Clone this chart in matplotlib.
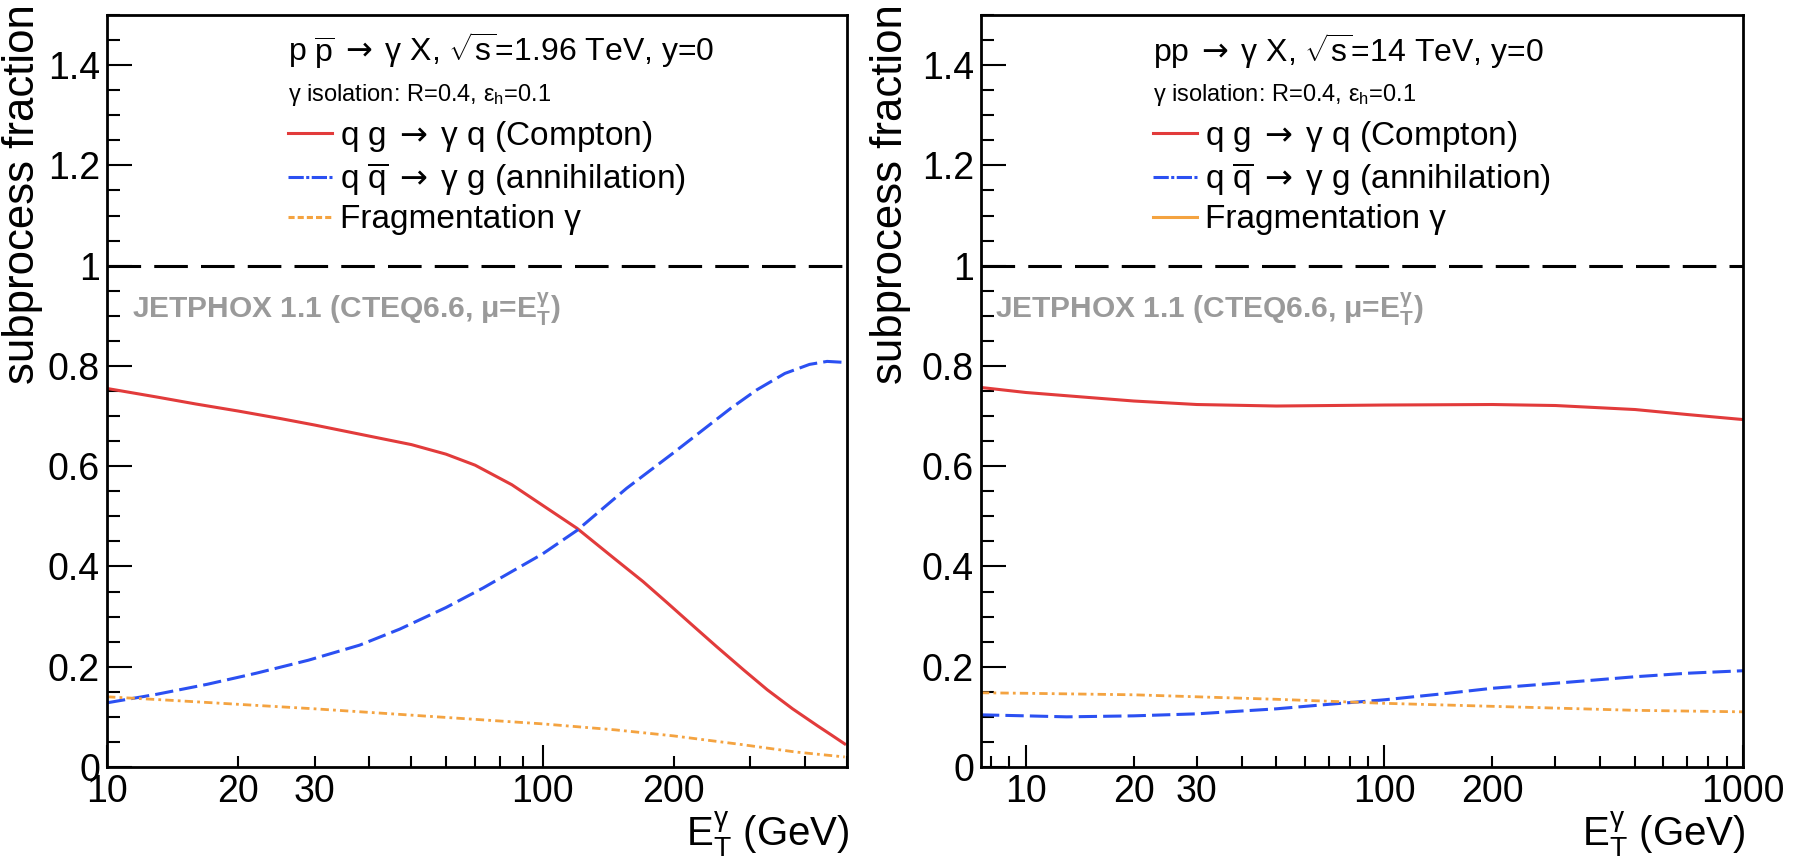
import matplotlib
matplotlib.use("Agg")
import matplotlib.pyplot as plt
from matplotlib.lines import Line2D
from matplotlib.ticker import FixedLocator, FuncFormatter, MultipleLocator

plt.rcParams['font.family'] = ['Liberation Sans', 'DejaVu Sans']
plt.rcParams['mathtext.fontset'] = 'custom'
plt.rcParams['mathtext.rm'] = 'Liberation Sans'
plt.rcParams['mathtext.it'] = 'Liberation Sans'
plt.rcParams['mathtext.sf'] = 'DejaVu Sans'
plt.rcParams['mathtext.default'] = 'regular'

# Tevatron, p pbar at 1.96 TeV
tev_et_compton = [10, 13, 16, 20, 25, 30, 40, 50, 60, 70, 85, 100, 120, 147, 170, 193, 220, 251,
                  290, 328, 375, 428, 460, 494]
tev_compton = [0.755, 0.738, 0.724, 0.710, 0.695, 0.682, 0.660, 0.643, 0.624, 0.602, 0.563, 0.522,
               0.476, 0.414, 0.370, 0.328, 0.284, 0.240, 0.193, 0.154, 0.116, 0.082, 0.064, 0.046]
tev_et_annih = [10, 13, 17, 22, 29, 38, 47, 60, 73, 100, 120, 156, 200, 230, 270, 310, 360, 410, 450, 494]
tev_annih = [0.128, 0.145, 0.165, 0.187, 0.213, 0.243, 0.275, 0.318, 0.357, 0.425, 0.472, 0.556,
             0.627, 0.668, 0.715, 0.752, 0.785, 0.803, 0.809, 0.807]
tev_et_frag = [10, 14, 20, 30, 45, 70, 100, 147, 200, 285, 380, 494]
tev_frag = [0.140, 0.133, 0.125, 0.116, 0.106, 0.095, 0.086, 0.074, 0.062, 0.045, 0.030, 0.020]

# LHC, pp at 14 TeV
lhc_et_compton = [7.5, 10, 15, 20, 30, 50, 100, 200, 300, 500, 700, 1000]
lhc_compton = [0.757, 0.747, 0.737, 0.730, 0.723, 0.720, 0.722, 0.723, 0.721, 0.713, 0.703, 0.693]
lhc_et_annih = [7.5, 10, 13, 20, 30, 50, 70, 100, 150, 200, 300, 500, 700, 1000]
lhc_annih = [0.104, 0.102, 0.100, 0.102, 0.106, 0.116, 0.125, 0.134, 0.147, 0.157, 0.167, 0.180, 0.187, 0.192]
lhc_et_frag = [7.5, 10, 20, 30, 50, 100, 200, 500, 1000]
lhc_frag = [0.148, 0.147, 0.144, 0.140, 0.135, 0.127, 0.121, 0.113, 0.110]

RED = '#e23b3b'
BLUE = '#2b50f2'
ORANGE = '#f4a340'
GREY = '#9a9a9a'

ARROW = r"$\mathsf{\;\rightarrow\;}$"
LABEL_COMPTON = f"q g{ARROW}γ q (Compton)"
LABEL_ANNIH = r"q $\overline{\mathrm{q}}$" + ARROW + "γ g (annihilation)"
LABEL_FRAG = "Fragmentation γ"
JETPHOX = r"JETPHOX 1.1 (CTEQ6.6, μ=$E_{T}^{\gamma}$)"
ISOLATION = r"γ isolation: R=0.4, $\epsilon_{h}$=0.1"
HEADER_TEV = r"p $\overline{\mathrm{p}}$" + ARROW + r"γ X, $\sqrt{\mathrm{s}}$=1.96 TeV, y=0"
HEADER_LHC = "pp" + ARROW + r"γ X, $\sqrt{\mathrm{s}}$=14 TeV, y=0"

ANNIH_DASH = (6, 2)
FRAG_DASH = (3, 1.5, 1, 1.5)

fig = plt.figure(figsize=(17.93, 8.61), dpi=100)
ax_l = fig.add_axes([0.0597, 0.1092, 0.4127, 0.8734])
ax_r = fig.add_axes([0.5471, 0.1092, 0.4250, 0.8734])


def style_axis(ax, xmin, xmax, xlabels):
    ax.set_xscale('log')
    ax.set_xlim(xmin, xmax)
    ax.set_ylim(0, 1.5)
    ax.xaxis.set_major_locator(FixedLocator([10, 100, 1000]))
    minors = [m * d for d in (1, 10, 100) for m in range(2, 10)]
    ax.xaxis.set_minor_locator(FixedLocator(minors))
    fmt = FuncFormatter(lambda v, p: f"{v:g}" if round(v) in xlabels else "")
    ax.xaxis.set_major_formatter(fmt)
    ax.xaxis.set_minor_formatter(fmt)
    ax.yaxis.set_major_locator(MultipleLocator(0.2))
    ax.yaxis.set_minor_locator(MultipleLocator(0.05))
    ax.yaxis.set_major_formatter(FuncFormatter(lambda v, p: f"{v:g}" if v < 1.45 else ""))
    ax.tick_params(axis='both', which='both', direction='in', top=False, right=False,
                   width=1.5, labelsize=27, pad=5)
    ax.tick_params(axis='x', which='major', length=16)
    ax.tick_params(axis='x', which='minor', length=8)
    ax.tick_params(axis='y', which='major', length=18)
    ax.tick_params(axis='y', which='minor', length=9)
    for s in ax.spines.values():
        s.set_linewidth(2)
    ax.axhline(1.0, color='black', lw=2.2, dashes=(11, 4.3))
    ax.set_xlabel(r"$E_{T}^{\gamma}$ (GeV)", fontsize=29, loc='right')
    ax.xaxis.set_label_coords(1.004, -0.057)
    ax.set_ylabel("subprocess fraction", fontsize=31.5, loc='top')


def draw_panel(ax, et_c, comp, et_a, annih, et_f, frag):
    ax.plot(et_c, comp, color=RED, lw=2.2)
    ax.plot(et_a, annih, color=BLUE, lw=2.2, dashes=ANNIH_DASH)
    ax.plot(et_f, frag, color=ORANGE, lw=2.0, dashes=FRAG_DASH)


# left: Tevatron
style_axis(ax_l, 10, 500, {10, 20, 30, 100, 200})
draw_panel(ax_l, tev_et_compton, tev_compton, tev_et_annih, tev_annih, tev_et_frag, tev_frag)
ax_l.yaxis.set_label_coords(-0.086, 1.015)

# right: LHC
style_axis(ax_r, 7.5, 1000, {10, 20, 30, 100, 200, 1000})
draw_panel(ax_r, lhc_et_compton, lhc_compton, lhc_et_annih, lhc_annih, lhc_et_frag, lhc_frag)
ax_r.yaxis.set_label_coords(-0.092, 1.015)

panels = [
    (ax_l, 0.245, HEADER_TEV, 0.034, (2, 1)),
    (ax_r, 0.226, HEADER_LHC, 0.018, None),
]
for ax, xleg, header, xjet, fdash in panels:
    ax.text(xleg, 0.952, header, transform=ax.transAxes, fontsize=23, ha='left', va='center')
    ax.text(xleg, 0.894, ISOLATION, transform=ax.transAxes, fontsize=17, ha='left', va='center')
    ax.text(xjet, 0.608, JETPHOX, transform=ax.transAxes, fontsize=21.5, ha='left', va='center',
            color=GREY, fontweight='bold')
    h_frag = Line2D([], [], color=ORANGE, lw=2.2)
    if fdash is not None:
        h_frag.set_dashes(fdash)
    handles = [Line2D([], [], color=RED, lw=2.2),
               Line2D([], [], color=BLUE, lw=2.2, dashes=(5, 0.8, 1, 0.8)),
               h_frag]
    ax.legend(handles, [LABEL_COMPTON, LABEL_ANNIH, LABEL_FRAG], loc='upper left',
              bbox_to_anchor=(xleg, 0.862), frameon=False, fontsize=24,
              handlelength=1.3, handletextpad=0.25, labelspacing=0.2,
              borderaxespad=0, borderpad=0)

fig.savefig("out.png", dpi=100)
